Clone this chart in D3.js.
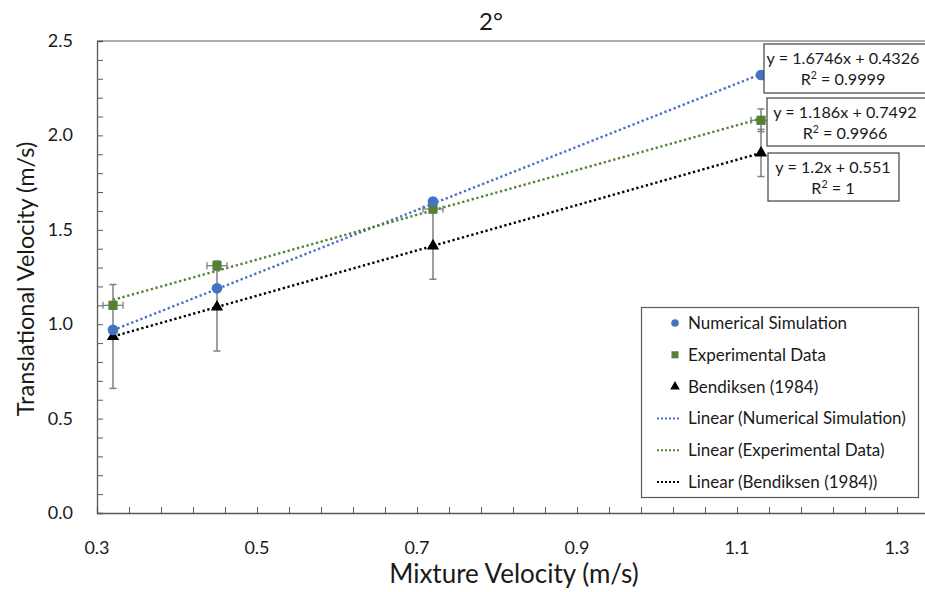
<!DOCTYPE html>
<html>
<head>
<meta charset="utf-8">
<script src="https://cdn.jsdelivr.net/npm/d3@7/dist/d3.min.js"></script>
<style>
  html, body { margin: 0; padding: 0; background: #fff; overflow: hidden; }
  svg { display: block; font-family: Lato, "Open Sans", sans-serif; }
</style>
</head>
<body>
<svg id="chart" width="925" height="592"></svg>
<script>
// Mixture velocity (m/s) at each test point
const mixtureVelocity = [0.32, 0.45, 0.72, 1.13];

// Translational velocity (m/s) for each source
const numericalSim = [0.97, 1.19, 1.65, 2.32];
const experimental = [1.10, 1.31, 1.61, 2.08];
const bendiksen = [0.935, 1.091, 1.415, 1.907];

// Error bar half-widths
const experimentalYErr = [0.02, 0.025, 0.02, 0.06];
const experimentalXErr = [0.0125, 0.0125, 0.0125, 0.0125];
const bendiksenYErr = [0.275, 0.233, 0.177, 0.125];

// Linear fit coefficients [slope, intercept, R²]
const fitNumerical = [1.6746, 0.4326, "0.9999"];
const fitExperimental = [1.186, 0.7492, "0.9966"];
const fitBendiksen = [1.2, 0.551, "1"];

const xTicks = [0.3, 0.5, 0.7, 0.9, 1.1, 1.3];
const yTicks = [0, 0.5, 1.0, 1.5, 2.0, 2.5];

const chartTitle = "2°";
const xTitle = "Mixture Velocity (m/s)";
const yTitle = "Translational Velocity (m/s)";

const legendNames = [
  "Numerical Simulation",
  "Experimental Data",
  "Bendiksen (1984)",
  "Linear (Numerical Simulation)",
  "Linear (Experimental Data)",
  "Linear (Bendiksen (1984))"
];

const BLUE = "#4472C4";
const GREEN = "#548235";
const BLACK = "#000000";
const AXIS = "#595959";
const ERR = "#7f7f7f";
const TEXT = "#1a1a1a";

const svg = d3.select("#chart");
const mLeft = 97, mTop = 41, plotW = 840, plotH = 472;

const x = d3.scaleLinear().domain([0.3, 1.35]).range([mLeft, mLeft + plotW]);
const y = d3.scaleLinear().domain([0, 2.5]).range([mTop + plotH, mTop]);

// plot frame (top edge; bottom/left come from the axes)
svg.append("line")
  .attr("x1", mLeft).attr("x2", mLeft + plotW)
  .attr("y1", mTop).attr("y2", mTop)
  .attr("stroke", AXIS).attr("stroke-width", 1);

// minor ticks, drawn inward
const xMinor = d3.range(0, 27).map(i => +(0.3 + i * 0.04).toFixed(2)).filter(v => v <= 1.35);
const yMinor = d3.range(0, 26).map(i => +(i * 0.1).toFixed(1));

const xAxis = d3.axisBottom(x).tickValues(xMinor).tickSize(-6).tickFormat("");
svg.append("g").attr("transform", `translate(0,${mTop + plotH})`).call(xAxis)
  .call(g => g.selectAll("line").attr("stroke", AXIS))
  .call(g => g.select(".domain").attr("stroke", AXIS).attr("stroke-width", 1.3));

const yAxis = d3.axisLeft(y).tickValues(yMinor).tickSize(-6).tickFormat("");
svg.append("g").attr("transform", `translate(${mLeft},0)`).call(yAxis)
  .call(g => g.selectAll("line").attr("stroke", AXIS))
  .call(g => g.select(".domain").attr("stroke", AXIS).attr("stroke-width", 1.3));

// tick labels
svg.append("g").selectAll("text").data(xTicks).join("text")
  .attr("x", d => x(d)).attr("y", mTop + plotH + 41)
  .attr("text-anchor", "middle").attr("font-size", 18).attr("fill", TEXT)
  .text(d => d.toFixed(1));

svg.append("g").selectAll("text").data(yTicks).join("text")
  .attr("x", mLeft - 24).attr("y", d => y(d) + 6)
  .attr("text-anchor", "end").attr("font-size", 18).attr("fill", TEXT)
  .text(d => d.toFixed(1));

// titles
svg.append("text").attr("x", 491).attr("y", 30).attr("text-anchor", "middle")
  .attr("font-size", 24).attr("fill", TEXT).text(chartTitle);
svg.append("text").attr("x", 514).attr("y", 583).attr("text-anchor", "middle")
  .attr("font-size", 26).attr("fill", TEXT).text(xTitle);
svg.append("text").attr("transform", "translate(34,279) rotate(-90)")
  .attr("text-anchor", "middle").attr("font-size", 23.5).attr("fill", TEXT).text(yTitle);

// linear trendlines across the data range
const dotted = "2.3,2.6";
function trend(fit, color) {
  const x0 = d3.min(mixtureVelocity), x1 = d3.max(mixtureVelocity);
  svg.append("line")
    .attr("x1", x(x0)).attr("y1", y(fit[0] * x0 + fit[1]))
    .attr("x2", x(x1)).attr("y2", y(fit[0] * x1 + fit[1]))
    .attr("stroke", color).attr("stroke-width", 2.4)
    .attr("stroke-dasharray", dotted);
}
trend(fitNumerical, BLUE);
trend(fitExperimental, GREEN);
trend(fitBendiksen, BLACK);

// error bars
function vErr(vals, errs, color) {
  const g = svg.append("g").attr("stroke", color).attr("stroke-width", 1.5);
  mixtureVelocity.forEach((xv, i) => {
    const y0 = y(vals[i] - errs[i]), y1 = y(vals[i] + errs[i]), cx = x(xv);
    g.append("line").attr("x1", cx).attr("x2", cx).attr("y1", y0).attr("y2", y1);
    g.append("line").attr("x1", cx - 3.5).attr("x2", cx + 3.5).attr("y1", y0).attr("y2", y0);
    g.append("line").attr("x1", cx - 3.5).attr("x2", cx + 3.5).attr("y1", y1).attr("y2", y1);
  });
}
function hErr(vals, errs, color) {
  const g = svg.append("g").attr("stroke", color).attr("stroke-width", 1.3);
  mixtureVelocity.forEach((xv, i) => {
    const x0 = x(xv - errs[i]), x1 = x(xv + errs[i]), cy = y(vals[i]);
    g.append("line").attr("x1", x0).attr("x2", x1).attr("y1", cy).attr("y2", cy);
    g.append("line").attr("x1", x0).attr("x2", x0).attr("y1", cy - 3.5).attr("y2", cy + 3.5);
    g.append("line").attr("x1", x1).attr("x2", x1).attr("y1", cy - 3.5).attr("y2", cy + 3.5);
  });
}
vErr(bendiksen, bendiksenYErr, ERR);
vErr(experimental, experimentalYErr, ERR);
hErr(experimental, experimentalXErr, ERR);

// markers
const circleSym = d3.symbol().type(d3.symbolCircle).size(90);
const squareSym = d3.symbol().type(d3.symbolSquare).size(85);
const triSym = d3.symbol().type(d3.symbolTriangle).size(65);

svg.append("g").selectAll("path").data(mixtureVelocity).join("path")
  .attr("transform", (d, i) => `translate(${x(d)},${y(bendiksen[i])})`)
  .attr("d", triSym).attr("fill", BLACK);
svg.append("g").selectAll("path").data(mixtureVelocity).join("path")
  .attr("transform", (d, i) => `translate(${x(d)},${y(experimental[i])})`)
  .attr("d", squareSym).attr("fill", GREEN);
svg.append("g").selectAll("path").data(mixtureVelocity).join("path")
  .attr("transform", (d, i) => `translate(${x(d)},${y(numericalSim[i])})`)
  .attr("d", circleSym).attr("fill", BLUE);

// trendline equation labels
function eqBox(fit, bx, by, bw, bh, cx) {
  const g = svg.append("g");
  g.append("rect").attr("x", bx).attr("y", by).attr("width", bw).attr("height", bh)
    .attr("fill", "#fff").attr("stroke", "#404040").attr("stroke-width", 1.2);
  g.append("text").attr("x", cx).attr("y", by + 20).attr("text-anchor", "middle")
    .attr("font-size", 16.2).attr("fill", TEXT)
    .text(`y = ${fit[0]}x + ${fit[1]}`);
  const t = g.append("text").attr("x", cx).attr("y", by + 41).attr("text-anchor", "middle")
    .attr("font-size", 16.2).attr("fill", TEXT);
  t.append("tspan").text("R");
  t.append("tspan").attr("dy", -6).attr("font-size", 10.5).text("2");
  t.append("tspan").attr("dy", 6).text(` = ${fit[2]}`);
}
eqBox(fitNumerical, 764, 44, 170, 49, 843);
eqBox(fitExperimental, 767, 98, 165, 48, 845);
eqBox(fitBendiksen, 768, 153, 131, 48, 833);

// legend
const lg = svg.append("g");
lg.append("rect").attr("x", 641.5).attr("y", 307.5).attr("width", 277).attr("height", 190)
  .attr("fill", "#fff").attr("stroke", "#595959").attr("stroke-width", 1.2);
const rowY = i => 323 + i * 31.8;
const colors = [BLUE, GREEN, BLACK];
const syms = [d3.symbol().type(d3.symbolCircle).size(45), d3.symbol().type(d3.symbolSquare).size(50), d3.symbol().type(d3.symbolTriangle).size(40)];
legendNames.forEach((name, i) => {
  const cy = rowY(i);
  if (i < 3) {
    lg.append("path").attr("transform", `translate(675,${cy})`).attr("d", syms[i]).attr("fill", colors[i]);
  } else {
    lg.append("line").attr("x1", 657).attr("x2", 681).attr("y1", cy).attr("y2", cy)
      .attr("stroke", colors[i - 3]).attr("stroke-width", 2).attr("stroke-dasharray", "2,2");
  }
  lg.append("text").attr("x", 688).attr("y", cy + 6).attr("font-size", 17).attr("fill", TEXT).text(name);
});
</script>
</body>
</html>
